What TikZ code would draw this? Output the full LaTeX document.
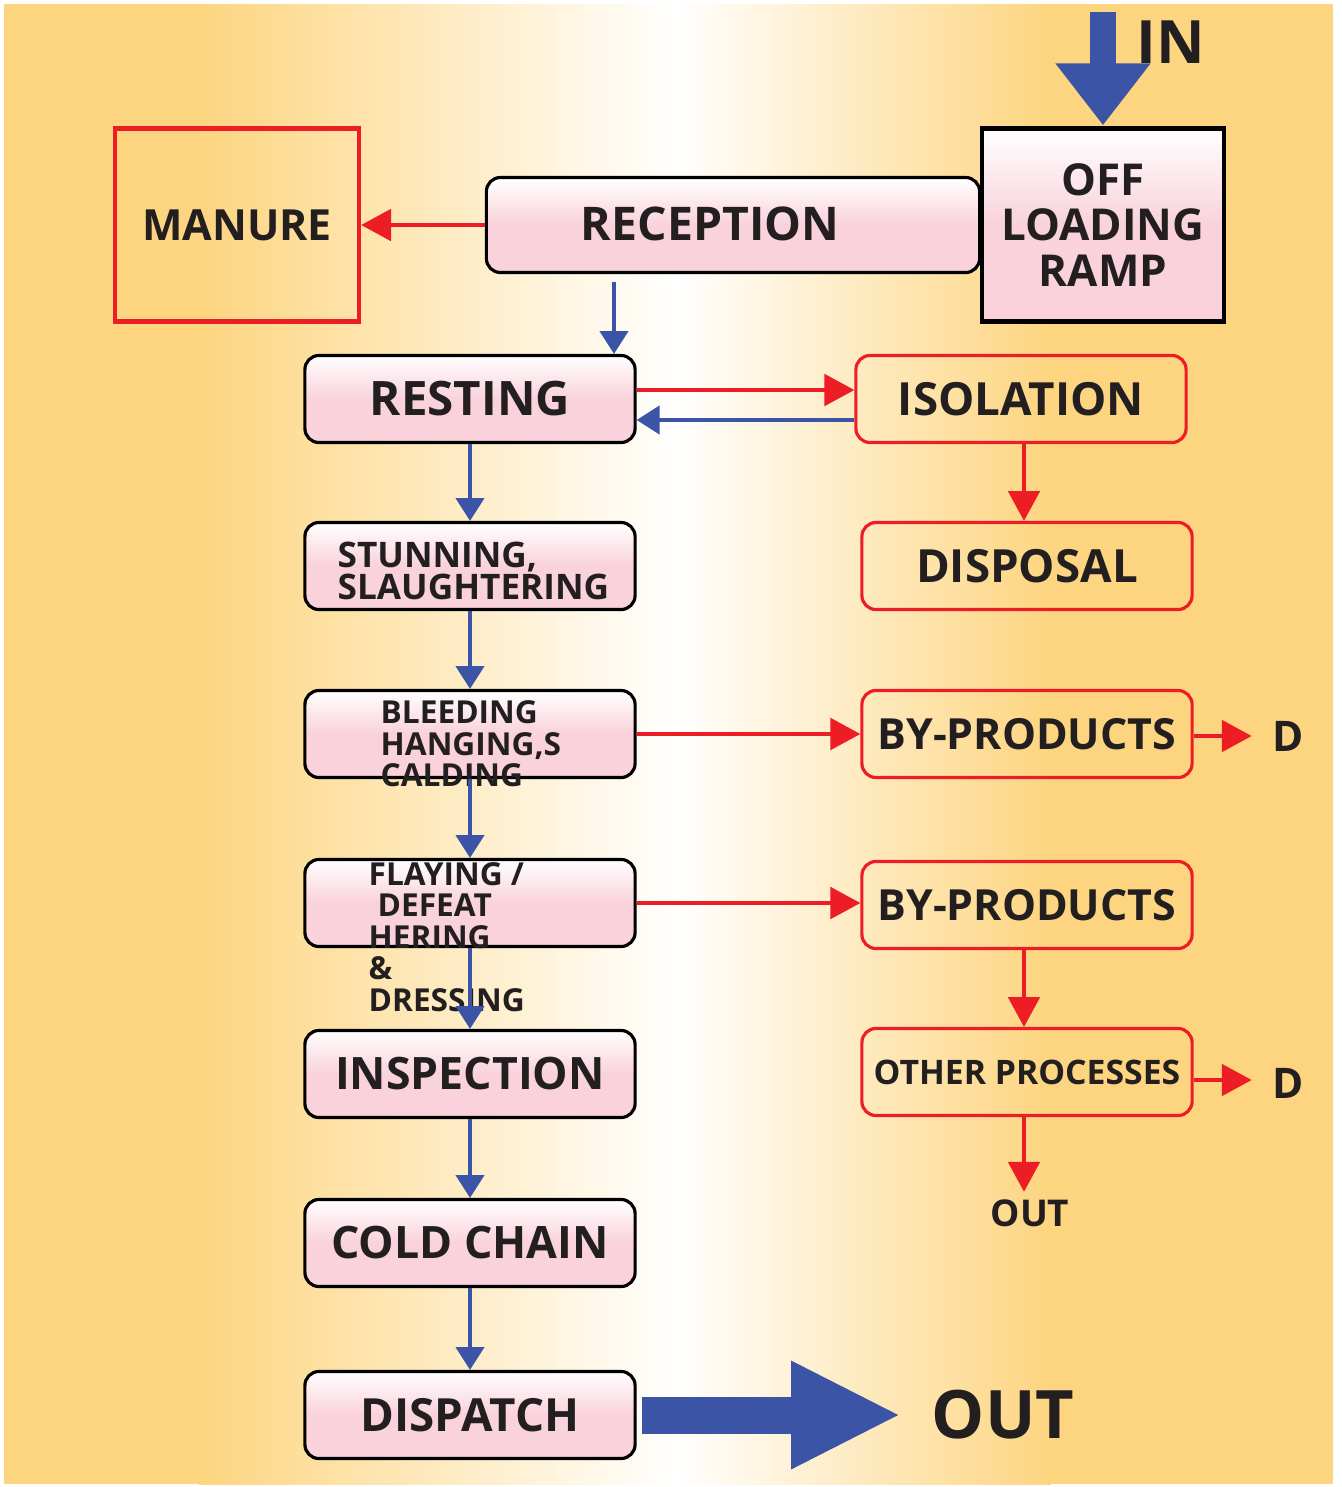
\documentclass[tikz,border=0pt]{standalone}
\usepackage{fontspec}
\setmainfont{Open Sans}
\usetikzlibrary{arrows.meta}
\definecolor{bgorange}{RGB}{253,213,128}
\definecolor{boxpink}{RGB}{249,210,219}
\definecolor{flowblue}{RGB}{59,84,166}
\definecolor{flowred}{RGB}{237,29,37}
\definecolor{inkdark}{RGB}{35,31,32}

\begin{document}
\begin{tikzpicture}[x=0.01cm, y=-0.01cm, >=latex,
    box/.style={draw=black, line width=0.9pt, rounded corners=4pt, top color=white, bottom color=boxpink, middle color=boxpink, minimum width=3.3cm, minimum height=0.87cm, inner sep=0pt, text=inkdark, font=\bfseries\fontsize{13}{15}\selectfont},
    redbox/.style={draw=flowred, line width=0.9pt, rounded corners=4pt, minimum width=3.3cm, minimum height=0.87cm, inner sep=0pt, text=inkdark, font=\bfseries\fontsize{13}{15}\selectfont},
    lbl/.style={inner sep=0pt, text=inkdark, font=\bfseries\fontsize{9}{9}\selectfont, align=left},
    tag/.style={inner sep=0.2cm, text=inkdark, font=\bfseries\fontsize{12}{12}\selectfont},
    blueflow/.style={draw=flowblue, line width=1.1pt, -{Triangle[width=8pt 0 0, length=6.5pt 0 0]}},
    redflow/.style={draw=flowred, line width=0.9pt, -{Triangle[width=9pt 0 0, length=8.5pt 0 0]}}]
        % ==== BACKGROUND ====
        \useasboundingbox (0,0) rectangle (1341,1487);
        \fill[white] (0,0) rectangle (1341,1487);
        \fill[bgorange] (4,4) rectangle (200,1484);
        \fill[left color=bgorange, right color=white] (199,4) rectangle (676,1484);
        \fill[left color=white, right color=bgorange] (675,4) rectangle (1051,1484);
        \fill[bgorange] (1050,4) rectangle (1333,1484);

        % ==== TOP ROW ====
        \node[draw=flowred, line width=1.2pt, minimum width=2.44cm, minimum height=1.93cm, inner sep=0pt, text=inkdark, font=\bfseries\fontsize{12.2}{15}\selectfont] (manure) at (237,225) {MANURE};
        \node[box, minimum width=4.93cm, minimum height=0.95cm] (reception) at (733,225) {};
        \node[inner sep=0pt, text=inkdark, font=\bfseries\fontsize{13.2}{15}\selectfont] (receptiontxt) at (710,224) {RECEPTION};
        \node[box, rounded corners=0pt, line width=1.2pt, minimum width=2.42cm, minimum height=1.93cm, align=center, font=\bfseries\fontsize{12.5}{13}\selectfont] (offload) at (1103,225) {OFF\\LOADING\\RAMP};
        \coordinate (intop) at (1103,12);
        \node[inner sep=0pt, text=inkdark, font=\bfseries\fontsize{17}{17}\selectfont] (intxt) at (1171,42) {IN};

        % ==== MAIN LINE ====
        \node[box, font=\bfseries\fontsize{13.5}{15}\selectfont] (resting) at (470,399) {RESTING};
        \node[box] (stunning) at (470,566) {};
        \node[lbl, anchor=west, font=\bfseries\fontsize{10}{9}\selectfont] (stunningtxt) at (337,571) {STUNNING,\\SLAUGHTERING};
        \node[box] (bleeding) at (470,734) {};
        \node[lbl, anchor=west] (bleedingtxt) at (380,744) {BLEEDING\\HANGING,S\\CALDING};
        \node[box] (flaying) at (470,903) {};
        \node[lbl, anchor=west] (flayingtxt) at (368,937) {FLAYING /\\\hspace*{0.09cm}DEFEAT\\HERING\\\&\\DRESSING};
        \node[box, font=\bfseries\fontsize{12.7}{15}\selectfont] (inspection) at (470,1074) {INSPECTION};
        \node[box, font=\bfseries\fontsize{12.7}{15}\selectfont] (coldchain) at (470,1243) {COLD CHAIN};
        \node[box] (dispatch) at (470,1415) {DISPATCH};
        \node[inner sep=0.3cm, text=inkdark, font=\bfseries\fontsize{19}{19}\selectfont] (outbig) at (1003,1415) {OUT};

        % ==== SIDE LINE ====
        \node[redbox] (isolation) at (1021,399) {ISOLATION};
        \node[redbox] (disposal) at (1027,566) {DISPOSAL};
        \node[redbox, font=\bfseries\fontsize{12.2}{15}\selectfont] (byprodA) at (1027,734) {BY-PRODUCTS};
        \node[redbox, font=\bfseries\fontsize{12.2}{15}\selectfont] (byprodB) at (1027,905) {BY-PRODUCTS};
        \node[redbox, font=\bfseries\fontsize{9.6}{9}\selectfont] (other) at (1027,1072) {OTHER PROCESSES};
        \node[tag] (dA) at (1288,736) {D};
        \node[tag] (dB) at (1288,1083) {D};
        \node[tag, inner sep=0.07cm, font=\bfseries\fontsize{10.5}{10.5}\selectfont] (outsmall) at (1030,1213) {OUT};

        % ==== CONNECTORS ====
        \draw[flowblue, line width=0.26cm, -{Triangle[width=0.91cm 0 0, length=0.62cm 0 0]}] (intop) -- ([yshift=0.01cm]offload.north);
        \draw[redflow] (reception.west) -- (manure.east);
        \draw[blueflow] (reception.south -| 614,0) ++(0,8) -- (resting.north -| 614,0);
        \draw[redflow] (resting.east |- 0,390) -- (isolation.west |- 0,390);
        \draw[blueflow] (isolation.west |- 0,420) -- (resting.east |- 0,420);
        \draw[redflow] (isolation.south -| 1024,0) -- (disposal.north -| 1024,0);
        \draw[blueflow] (resting.south) -- (stunning.north);
        \draw[blueflow] (stunning.south) -- (bleeding.north);
        \draw[blueflow] (bleeding.south) -- (flaying.north);
        \draw[blueflow] (flaying.south) -- (inspection.north);
        \draw[blueflow] (inspection.south) -- (coldchain.north);
        \draw[blueflow] (coldchain.south) -- (dispatch.north);
        \draw[redflow] (bleeding.east) -- (byprodA.west |- bleeding.east);
        \draw[redflow] (flaying.east) -- (byprodB.west |- flaying.east);
        \draw[redflow] (byprodA.east |- dA) -- (dA.west);
        \draw[redflow] (byprodB.south -| 1024,0) -- (other.north -| 1024,0);
        \draw[redflow] (other.east |- 0,1080) -- (dB.west |- 0,1080);
        \draw[redflow] (other.south -| 1024,0) -- (outsmall.north -| 1024,0);
        \draw[flowblue, line width=0.37cm, -{Triangle[width=1cm 0 0, length=1.1cm 0 0]}] ([xshift=0.05cm]dispatch.east) -- (outbig.west);
\end{tikzpicture}
\end{document}
